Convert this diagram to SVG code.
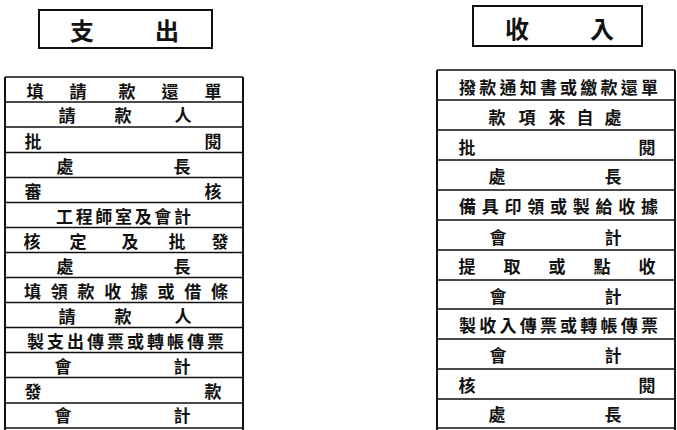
<svg xmlns="http://www.w3.org/2000/svg" width="677" height="430" viewBox="0 0 677 430">
<style>
.t{font-family:"Noto Sans CJK TC","Noto Sans CJK SC",sans-serif;font-size:17px;font-weight:700;fill:#111;dominant-baseline:central;text-anchor:middle}
.p{text-anchor:start}
.h{font-size:24px}
.ln{stroke:#111;stroke-width:1.5;fill:none}
.ed{stroke:#111;stroke-width:2;fill:none}
</style>
<rect width="677" height="430" fill="#fff"/>
<g id="header-out"><rect class="ed" x="39" y="10" width="173" height="38"/><text class="t h" x="82 167" y="29">支出</text></g>
<g id="header-in"><rect class="ed" x="473" y="6" width="169" height="40"/><text class="t h" x="517 602" y="27">收入</text></g>
<g id="connectors">
<path class="ed" d="M5 77V430M243 77V430M437 70V430M675 70V430"/>
<path class="ln" d="M5 77H243M5 102H243M5 127H243M5 152.5H243M5 177.5H243M5 202.5H243M5 227.5H243M5 252.5H243M5 277.5H243M5 302.5H243M5 327.5H243M5 352.5H243M5 377.5H243M5 403H243M5 428H243"/>
<path class="ln" d="M437 70H675M437 100H675M437 130H675M437 160H675M437 190H675M437 220H675M437 250H675M437 280H675M437 309H675M437 339H675M437 369H675M437 399H675M437 428H675"/>
</g>
<g id="out-1"><text class="t" x="35 78 127 170 213" y="90">填請款還單</text></g>
<g id="out-2"><text class="t" x="67 123 183" y="114.5">請款人</text></g>
<g id="out-3"><text class="t" x="33 213" y="140">批閱</text></g>
<g id="out-4"><text class="t" x="65 182" y="165">處長</text></g>
<g id="out-5"><text class="t" x="33 213" y="190">審核</text></g>
<g id="out-6"><text class="t p" x="56" y="215" textLength="135" lengthAdjust="spacing">工程師室及會計</text></g>
<g id="out-7"><text class="t" x="32 78 130 177 220" y="240">核定及批發</text></g>
<g id="out-8"><text class="t" x="65 182" y="265">處長</text></g>
<g id="out-9"><text class="t p" x="24" y="290" textLength="204" lengthAdjust="spacing">填領款收據或借條</text></g>
<g id="out-10"><text class="t" x="67 123 183" y="315">請款人</text></g>
<g id="out-11"><text class="t p" x="27" y="340" textLength="197" lengthAdjust="spacing">製支出傳票或轉帳傳票</text></g>
<g id="out-12"><text class="t" x="63 182" y="365">會計</text></g>
<g id="out-13"><text class="t" x="33 213" y="390">發款</text></g>
<g id="out-14"><text class="t" x="63 182" y="414">會計</text></g>
<g id="in-1"><text class="t p" x="459" y="86" textLength="199" lengthAdjust="spacing">撥款通知書或繳款還單</text></g>
<g id="in-2"><text class="t" x="497 527 557 585 613" y="116">款項來自處</text></g>
<g id="in-3"><text class="t" x="467 647" y="146">批閱</text></g>
<g id="in-4"><text class="t" x="497 613" y="175">處長</text></g>
<g id="in-5"><text class="t p" x="459" y="205" textLength="199" lengthAdjust="spacing">備具印領或製給收據</text></g>
<g id="in-6"><text class="t" x="498 613" y="236">會計</text></g>
<g id="in-7"><text class="t" x="467 512 557 602 647" y="265">提取或點收</text></g>
<g id="in-8"><text class="t" x="498 613" y="295">會計</text></g>
<g id="in-9"><text class="t p" x="459" y="324" textLength="199" lengthAdjust="spacing">製收入傳票或轉帳傳票</text></g>
<g id="in-10"><text class="t" x="498 613" y="354">會計</text></g>
<g id="in-11"><text class="t" x="467 647" y="384">核閱</text></g>
<g id="in-12"><text class="t" x="497 613" y="413">處長</text></g>
</svg>
